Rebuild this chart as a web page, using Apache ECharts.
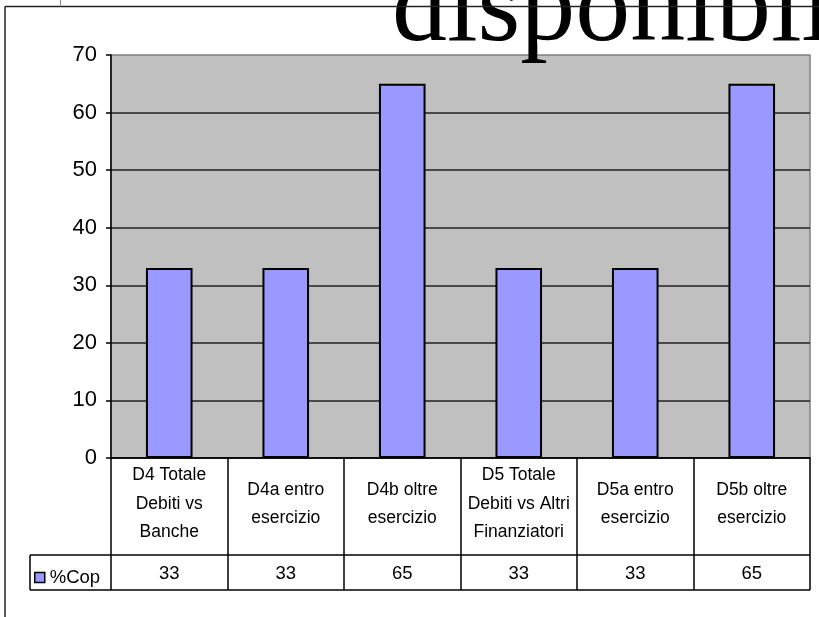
<!DOCTYPE html>
<html>
<head>
<meta charset="utf-8">
<script src="https://cdn.jsdelivr.net/npm/echarts@6/dist/echarts.min.js"></script>
<style>html,body{margin:0;padding:0;background:#fff}#c{width:819px;height:617px}</style>
</head>
<body>
<div id="c"></div>
<script>
const titleText = 'disponibili';
const seriesName = '%Cop';
const categories = [
  'D4 Totale\nDebiti vs\nBanche',
  'D4a entro\nesercizio',
  'D4b oltre\nesercizio',
  'D5 Totale\nDebiti vs Altri\nFinanziatori',
  'D5a entro\nesercizio',
  'D5b oltre\nesercizio'
];
const values = [33, 33, 65, 33, 33, 65];
const yMin = 0, yMax = 70, yStep = 10;

const FONT = '"Liberation Sans", Arial, sans-serif';
const chart = echarts.init(document.getElementById('c'), null, {renderer: 'canvas'});
chart.setOption({
  animation: false,
  backgroundColor: '#fff',
  grid: {left: 111, right: 9, top: 55, bottom: 159, show: true, backgroundColor: '#C0C0C0', borderColor: '#808080', borderWidth: 1.5},
  legend: {
    left: 34, top: 568, padding: 0, icon: 'rect', itemWidth: 10, itemHeight: 10, itemGap: 4,
    itemStyle: {borderColor: '#000', borderWidth: 1.5},
    textStyle: {fontSize: 18.5, color: '#000', fontFamily: FONT}
  },
  xAxis: [{
    type: 'category', data: categories,
    axisLine: {show: true, lineStyle: {color: '#000', width: 1.5}},
    axisTick: {show: true, length: 132, lineStyle: {color: '#000', width: 1.5}},
    axisLabel: {interval: 0, margin: 46, verticalAlign: 'middle', fontSize: 17.5, lineHeight: 28.5, color: '#000', fontFamily: FONT, align: 'center'},
    splitLine: {show: false}
  }, {
    type: 'category', data: categories, position: 'bottom', offset: 0,
    axisLine: {show: false}, axisTick: {show: false},
    axisLabel: {interval: 0, margin: 116, verticalAlign: 'middle', fontSize: 18.5, color: '#000', fontFamily: FONT,
      formatter: (v, i) => String(values[i])}
  }],
  yAxis: {
    type: 'value', min: yMin, max: yMax, interval: yStep,
    axisLine: {show: true, lineStyle: {color: '#000', width: 1.5}},
    axisTick: {show: true, length: 5, lineStyle: {color: '#000', width: 1.5}},
    axisLabel: {margin: 14, fontSize: 22, color: '#000', fontFamily: FONT},
    splitLine: {show: true, showMaxLine: false, lineStyle: {color: '#222', width: 1.5}}
  },
  series: [{
    name: seriesName, type: 'bar', data: values, barCategoryGap: '60%',
    itemStyle: {color: '#9999FF', borderColor: '#000', borderWidth: 2}
  }],
  graphic: [
    {type: 'text', left: 392, top: -44, z: 10, style: {text: titleText, font: '110px "Liberation Serif", "Times New Roman", serif', fill: '#000'}},
    {type: 'line', z: 20, shape: {x1: 5, y1: 6.5, x2: 819, y2: 6.5}, style: {stroke: '#222', lineWidth: 1.5}},
    {type: 'line', z: 20, shape: {x1: 5, y1: 6.5, x2: 5, y2: 617}, style: {stroke: '#222', lineWidth: 1.5}},
    {type: 'line', z: 20, shape: {x1: 60.5, y1: 0, x2: 60.5, y2: 6.5}, style: {stroke: '#888', lineWidth: 1}},
    {type: 'line', z: 20, shape: {x1: 30, y1: 555, x2: 810, y2: 555}, style: {stroke: '#000', lineWidth: 1.5}},
    {type: 'line', z: 20, shape: {x1: 30, y1: 590, x2: 810, y2: 590}, style: {stroke: '#000', lineWidth: 1.5}},
    {type: 'line', z: 20, shape: {x1: 30, y1: 555, x2: 30, y2: 590}, style: {stroke: '#000', lineWidth: 1.5}}
  ]
});
</script>
</body>
</html>
